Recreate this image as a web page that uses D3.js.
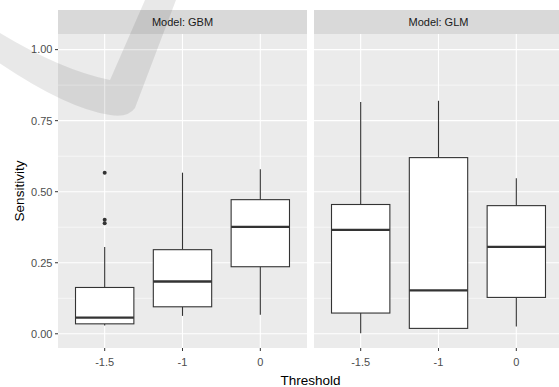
<!DOCTYPE html>
<html>
<head>
<meta charset="utf-8">
<script src="https://cdn.jsdelivr.net/npm/d3@7"></script>
<style>
  body { margin: 0; background: #fff; }
  svg { display: block; font-family: "Liberation Sans", Arial, sans-serif; }
</style>
</head>
<body>
<svg id="chart"></svg>
<script>
// boxplot stats: [lower whisker, q1, median, q3, upper whisker]
const thresholds = ["-1.5", "-1", "0"];
const models = ["GBM", "GLM"];
const gbmStats = [
  [0.029, 0.035, 0.057, 0.163, 0.305],
  [0.063, 0.095, 0.184, 0.296, 0.567],
  [0.067, 0.236, 0.376, 0.472, 0.579]
];
const glmStats = [
  [0.002, 0.073, 0.366, 0.455, 0.816],
  [0.019, 0.019, 0.153, 0.620, 0.820],
  [0.026, 0.128, 0.306, 0.451, 0.547]
];
const gbmOutliers = [["-1.5", 0.567], ["-1.5", 0.401], ["-1.5", 0.389]];
const glmOutliers = [];
const yTicks = [0, 0.25, 0.5, 0.75, 1];
const yMinor = [0.125, 0.375, 0.625, 0.875];

const width = 559, height = 387;
const panelLeft = 58, panelW = 249, gap = 7;
const stripTop = 10, panelTop = 34, panelBottom = 348;

const svg = d3.select("#chart").attr("width", width).attr("height", height);

const y = d3.scaleLinear().domain([-0.05, 1.055]).range([panelBottom, panelTop]);
const x = d3.scalePoint().domain(thresholds).range([0, panelW]).padding(0.6);
const boxW = x.step() * 0.75;

const panels = models.map((m, i) => ({
  model: m,
  x0: panelLeft + i * (panelW + gap),
  stats: i === 0 ? gbmStats : glmStats,
  outliers: i === 0 ? gbmOutliers : glmOutliers
}));

panels.forEach((p, i) => {
  const g = svg.append("g").attr("transform", `translate(${p.x0},0)`);

  // strip
  g.append("rect").attr("x", 0).attr("y", stripTop).attr("width", panelW).attr("height", panelTop - stripTop).attr("fill", "#d9d9d9");
  g.append("text").attr("x", panelW / 2).attr("y", (stripTop + panelTop) / 2).attr("dy", "0.35em")
    .attr("text-anchor", "middle").attr("font-size", 11).attr("fill", "#1a1a1a")
    .text("Model: " + p.model);

  // panel background + grid
  g.append("rect").attr("x", 0).attr("y", panelTop).attr("width", panelW).attr("height", panelBottom - panelTop).attr("fill", "#ebebeb");
  g.selectAll(".minor").data(yMinor).join("line")
    .attr("x1", 0).attr("x2", panelW).attr("y1", d => y(d)).attr("y2", d => y(d))
    .attr("stroke", "#fff").attr("stroke-width", 0.6);
  g.selectAll(".major").data(yTicks).join("line")
    .attr("x1", 0).attr("x2", panelW).attr("y1", d => y(d)).attr("y2", d => y(d))
    .attr("stroke", "#fff").attr("stroke-width", 1.1);
  g.selectAll(".vgrid").data(thresholds).join("line")
    .attr("x1", d => x(d)).attr("x2", d => x(d)).attr("y1", panelTop).attr("y2", panelBottom)
    .attr("stroke", "#fff").attr("stroke-width", 1.1);

  // boxes
  const box = g.selectAll(".box").data(thresholds.map((t, j) => ({t, s: p.stats[j]}))).join("g");
  box.append("line")
    .attr("x1", d => x(d.t)).attr("x2", d => x(d.t))
    .attr("y1", d => y(d.s[4])).attr("y2", d => y(d.s[3]))
    .attr("stroke", "#333").attr("stroke-width", 1.1);
  box.append("line")
    .attr("x1", d => x(d.t)).attr("x2", d => x(d.t))
    .attr("y1", d => y(d.s[1])).attr("y2", d => y(d.s[0]))
    .attr("stroke", "#333").attr("stroke-width", 1.1);
  box.append("rect")
    .attr("x", d => x(d.t) - boxW / 2).attr("width", boxW)
    .attr("y", d => y(d.s[3])).attr("height", d => y(d.s[1]) - y(d.s[3]))
    .attr("fill", "#fff").attr("stroke", "#333").attr("stroke-width", 1.1);
  box.append("line")
    .attr("x1", d => x(d.t) - boxW / 2).attr("x2", d => x(d.t) + boxW / 2)
    .attr("y1", d => y(d.s[2])).attr("y2", d => y(d.s[2]))
    .attr("stroke", "#333").attr("stroke-width", 2.3);

  g.selectAll(".out").data(p.outliers).join("circle")
    .attr("cx", d => x(d[0])).attr("cy", d => y(d[1])).attr("r", 2)
    .attr("fill", "#333");

  // x axis
  const xa = g.append("g");
  xa.selectAll("line").data(thresholds).join("line")
    .attr("x1", d => x(d)).attr("x2", d => x(d)).attr("y1", panelBottom).attr("y2", panelBottom + 3)
    .attr("stroke", "#333").attr("stroke-width", 1);
  xa.selectAll("text").data(thresholds).join("text")
    .attr("x", d => x(d)).attr("y", 366).attr("text-anchor", "middle")
    .attr("font-size", 11).attr("fill", "#4d4d4d").text(d => d);

  // y axis on first panel
  if (i === 0) {
    const ya = g.append("g");
    ya.selectAll("line").data(yTicks).join("line")
      .attr("x1", -3).attr("x2", 0).attr("y1", d => y(d)).attr("y2", d => y(d))
      .attr("stroke", "#333").attr("stroke-width", 1);
    ya.selectAll("text").data(yTicks).join("text")
      .attr("x", -5.5).attr("y", d => y(d)).attr("dy", "0.35em").attr("text-anchor", "end")
      .attr("font-size", 11).attr("fill", "#4d4d4d").text(d => d3.format(".2f")(d));
  }
});

// axis titles
svg.append("text").attr("x", panelLeft + (2 * panelW + gap) / 2).attr("y", 385)
  .attr("text-anchor", "middle").attr("font-size", 13.5).attr("fill", "#000").text("Threshold");
svg.append("text").attr("transform", `translate(24,${(panelTop + panelBottom) / 2}) rotate(-90)`)
  .attr("text-anchor", "middle").attr("font-size", 13.5).attr("fill", "#000").text("Sensitivity");

// faint watermark swoosh over the top-left
svg.append("path")
  .attr("d", "M-5,30 Q60,70 110,80 L145,0 L176,0 L135,108 Q128,118 110,115 Q65,108 -5,60 Z")
  .attr("fill", "#000").attr("opacity", 0.09);
</script>
</body>
</html>
